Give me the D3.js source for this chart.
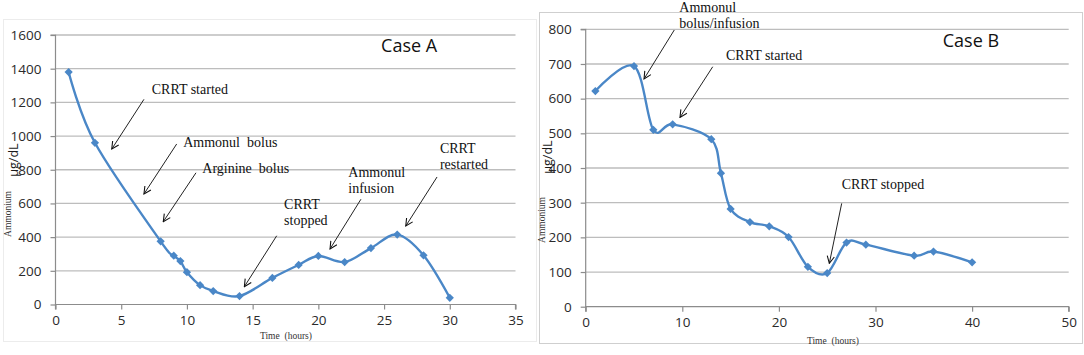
<!DOCTYPE html>
<html><head><meta charset="utf-8">
<script src="https://cdn.jsdelivr.net/npm/d3@7"></script>
<style>
html,body{margin:0;padding:0;background:#fff;}
svg{display:block;}
</style></head>
<body>
<svg id="chart" width="1084" height="355"></svg>
<script>
// ---- Data ----
const timeA = [1, 3, 8, 9, 9.5, 10, 11, 12, 14, 16.5, 18.5, 20, 22, 24, 26, 28, 30];
const ammoniumA = [1380, 960, 375, 290, 258, 192, 115, 80, 50, 158, 235, 288, 252, 335, 415, 292, 40];
const timeB = [1, 5, 7, 9, 13, 14, 15, 17, 19, 21, 23, 25, 27, 29, 34, 36, 40];
const ammoniumB = [622, 694, 510, 526, 483, 385, 282, 244, 232, 201, 115, 97, 185, 179, 147, 159, 128];
const xTicksA = [0, 5, 10, 15, 20, 25, 30, 35];
const yTicksA = [0, 200, 400, 600, 800, 1000, 1200, 1400, 1600];
const xTicksB = [0, 10, 20, 30, 40, 50];
const yTicksB = [0, 100, 200, 300, 400, 500, 600, 700, 800];
const titleA = "Case A";
const titleB = "Case B";
const xTitle = "Time  (hours)";
const yTitle1 = "Ammonium";
const yTitle2 = "μg/dL";
// annotations: text lines anchored at (tx,ty) in data units; arrow from (x1,y1) to (x2,y2)
const notesA = [
  {lines:["CRRT started"], tx:7.32, ty:1247, x1:6.73, y1:1218, x2:4.28, y2:923},
  {lines:["Ammonul  bolus"], tx:9.72, ty:937, x1:9.22, y1:953, x2:6.73, y2:656},
  {lines:["Arginine  bolus"], tx:11.17, ty:781, x1:10.69, y1:782, x2:8.2, y2:492},
  {lines:["CRRT","stopped"], tx:17.39, ty:565, x1:16.83, y1:408, x2:14.37, y2:106},
  {lines:["Ammonul","infusion"], tx:22.28, ty:757, x1:23.24, y1:625, x2:20.89, y2:330},
  {lines:["CRRT","restarted"], tx:29.25, ty:898, x1:29.03, y1:757, x2:26.65, y2:466}
];
const notesB = [
  {lines:["Ammonul","bolus/infusion"], tx:9.69, ty:851, x1:9.17, y1:798, x2:6.04, y2:657},
  {lines:["CRRT started"], tx:14.52, ty:711, x1:13.15, y1:692, x2:9.76, y2:546},
  {lines:["CRRT stopped"], tx:26.5, ty:339, x1:26.5, y1:298, x2:25.22, y2:125}
];

const svg = d3.select("#chart");
const defs = svg.append("defs");
defs.append("marker").attr("id","arr").attr("viewBox","0 0 10 10")
  .attr("refX",9).attr("refY",5).attr("markerWidth",9).attr("markerHeight",9)
  .attr("orient","auto").attr("markerUnits","userSpaceOnUse")
  .append("path").attr("d","M1,1 L9,5 L1,9").attr("fill","none").attr("stroke","#111").attr("stroke-width",1.2);

const blue = "#4a87c7";
const sans = "'Open Sans', 'Liberation Sans', sans-serif";
const serif = "'Liberation Serif', 'DejaVu Serif', serif";

function panel(o){
  const g = svg.append("g");
  // frame
  g.append("rect").attr("x",o.frame[0]).attr("y",o.frame[1]).attr("width",o.frame[2]).attr("height",o.frame[3])
    .attr("fill","#fff").attr("stroke",o.frameColor).attr("stroke-width",1);
  const x = d3.scaleLinear().domain(o.xDom).range(o.xRange);
  const y = d3.scaleLinear().domain(o.yDom).range(o.yRange);
  // gridlines
  g.append("g").selectAll("line").data(o.yTicks.filter(d=>d>0)).join("line")
    .attr("x1",o.xRange[0]).attr("x2",o.xRange[1]).attr("y1",d=>y(d)).attr("y2",d=>y(d))
    .attr("stroke","#bdbdbd").attr("stroke-width",1.3);
  // axes
  const yAx = g.append("g").attr("transform",`translate(${o.xRange[0]},0)`)
    .call(d3.axisLeft(y).tickValues(o.yTicks).tickSize(5).tickPadding(9).tickFormat(d3.format("d")));
  const xAx = g.append("g").attr("transform",`translate(0,${o.yRange[0]})`)
    .call(d3.axisBottom(x).tickValues(o.xTicks).tickSize(5).tickPadding(6).tickFormat(d3.format("d")));
  [xAx,yAx].forEach(a=>{
    a.select(".domain").attr("stroke","#8c8c8c").attr("stroke-width",1.2);
    a.selectAll(".tick line").attr("stroke","#8c8c8c").attr("stroke-width",1.2);
    a.selectAll("text").attr("font-family",sans).attr("font-size",13.5).attr("fill","#2a2a2a");
  });
  yAx.selectAll(".domain").attr("d",`M-5,${o.yRange[1]}H0V${o.yRange[0]}`);
  xAx.select(".domain").attr("d",`M${o.xRange[0]},5V0H${o.xRange[1]}V5`);
  // axis titles
  g.append("text").attr("transform",`translate(${o.yt1[0]},${o.yt1[1]}) rotate(-90)`)
    .attr("text-anchor","middle").attr("font-family",serif).attr("font-size",9.5).attr("fill","#333").text(yTitle1);
  g.append("text").attr("transform",`translate(${o.yt2[0]},${o.yt2[1]}) rotate(-90)`)
    .attr("text-anchor","middle").attr("font-family",sans).attr("font-size",12.5).attr("fill","#1a1a1a").text(yTitle2);
  g.append("text").attr("x",o.xt[0]).attr("y",o.xt[1]).attr("font-family",serif).attr("font-size",9.5)
    .attr("fill","#333").style("white-space","pre").text(xTitle);
  // title
  g.append("text").attr("x",x(o.title[1])).attr("y",y(o.title[2])).attr("font-family",sans)
    .attr("font-size",18).attr("fill","#111").text(o.title[0]);
  // line
  const pts = o.xs.map((t,i)=>[t,o.ys[i]]);
  g.append("path").datum(pts).attr("fill","none").attr("stroke",blue).attr("stroke-width",2.4)
    .attr("d",d3.line().x(d=>x(d[0])).y(d=>y(d[1])).curve(d3.curveCardinal.tension(0)));
  g.append("g").selectAll("path").data(pts).join("path")
    .attr("transform",d=>`translate(${x(d[0])},${y(d[1])}) rotate(45)`)
    .attr("d",d3.symbol(d3.symbolSquare,34)).attr("fill",blue);
  // annotations
  o.notes.forEach(n=>{
    n.lines.forEach((l,i)=>{
      g.append("text").attr("x",x(n.tx)).attr("y",y(n.ty)+i*16).attr("font-family",serif)
        .attr("font-size",14).attr("fill","#111").style("white-space","pre").text(l);
    });
    g.append("line").attr("x1",x(n.x1)).attr("y1",y(n.y1)).attr("x2",x(n.x2)).attr("y2",y(n.y2))
      .attr("stroke","#222").attr("stroke-width",1).attr("marker-end","url(#arr)");
  });
}

panel({frame:[3.5,19.5,533,322], frameColor:"#ececec",
  xDom:[0,35], xRange:[55.5,515.5], yDom:[0,1600], yRange:[304.5,35],
  xTicks:xTicksA, yTicks:yTicksA, xs:timeA, ys:ammoniumA, notes:notesA,
  title:[titleA,24.77,1499], yt1:[11,214], yt2:[18,160], xt:[260,339]});
panel({frame:[539.5,12.5,543,331], frameColor:"#cfcfcf",
  xDom:[0,50], xRange:[585.7,1068.7], yDom:[0,800], yRange:[306.7,29.3],
  xTicks:xTicksB, yTicks:yTicksB, xs:timeB, ys:ammoniumB, notes:notesB,
  title:[titleB,36.96,749], yt1:[545,220], yt2:[552,157], xt:[807,344]});
</script>
</body></html>
